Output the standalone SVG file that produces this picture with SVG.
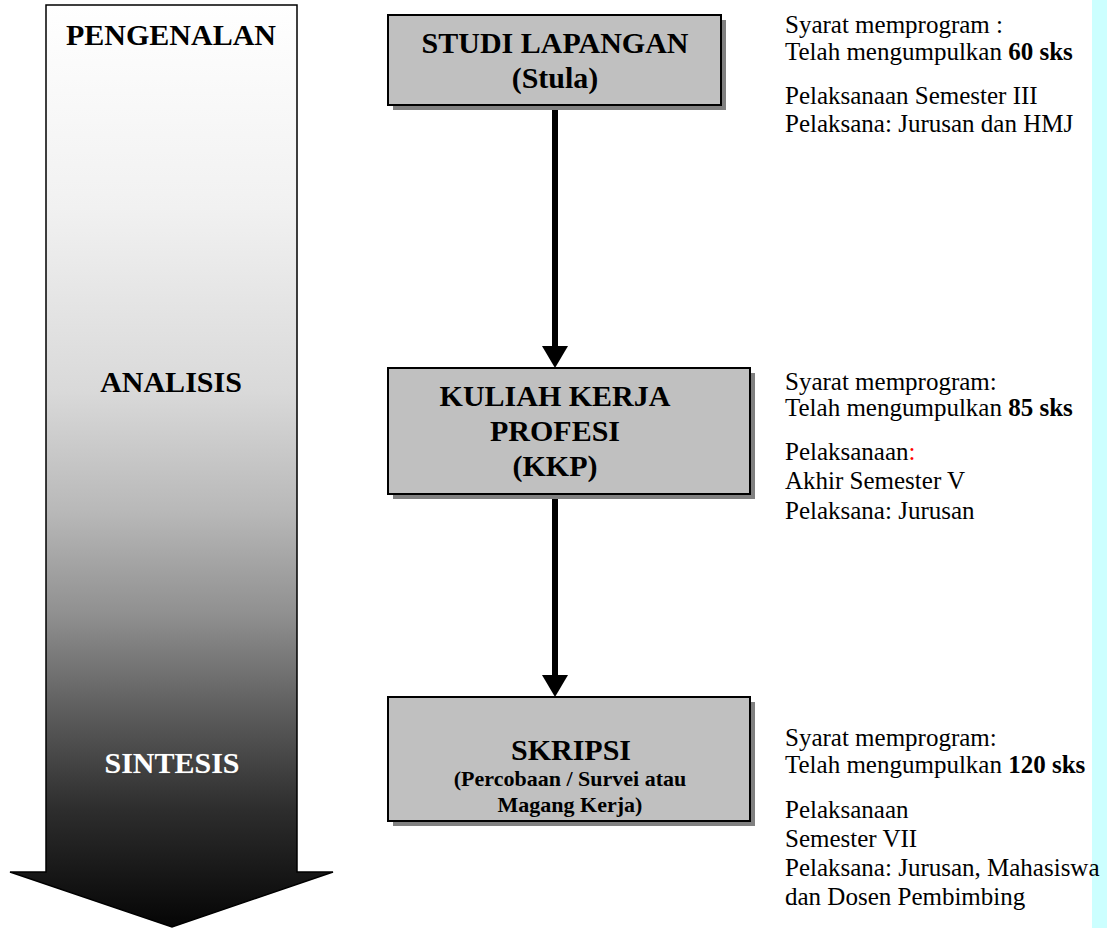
<svg xmlns="http://www.w3.org/2000/svg" width="1107" height="928" viewBox="0 0 1107 928">
  <style>
    .serif { font-family: "Liberation Serif", "Times New Roman", serif; }
    .stage { font-size: 30px; font-weight: bold; text-anchor: middle; }
    .title { font-size: 30px; font-weight: bold; text-anchor: middle; fill: #000; }
    .sub { font-size: 22px; font-weight: bold; text-anchor: middle; fill: #000; }
    .note { font-size: 25px; fill: #000; }
    .box { fill: #c0c0c0; stroke: #000; stroke-width: 2; }
    .shadow { fill: #808080; }
    .link { stroke: #000; stroke-width: 6; fill: none; }
  </style>
  <defs>
    <linearGradient id="stageFill" gradientUnits="userSpaceOnUse" x1="0" y1="5" x2="0" y2="927">
      <stop offset="0" stop-color="#ffffff"/>
      <stop offset="0.22" stop-color="#f1f1f1"/>
      <stop offset="0.42" stop-color="#d9d9d9"/>
      <stop offset="0.55" stop-color="#b8b8b8"/>
      <stop offset="0.66" stop-color="#909090"/>
      <stop offset="0.76" stop-color="#606060"/>
      <stop offset="0.87" stop-color="#2e2e2e"/>
      <stop offset="1" stop-color="#050505"/>
    </linearGradient>
    <marker id="head" viewBox="0 0 22 26" refX="4" refY="13" markerWidth="22" markerHeight="26" markerUnits="userSpaceOnUse" orient="auto">
      <path d="M0,0 L22,13 L0,26 Z" fill="#000"/>
    </marker>
  </defs>

  <rect width="1107" height="928" fill="#ffffff"/>
  <!-- right-hand margin strip -->
  <rect x="1092" y="0" width="15" height="928" fill="#ccffff"/>

  <!-- stage arrow down the left side -->
  <g id="stages">
    <path d="M46,5 H297 V872 H333 L172,927 L10,872 H46 Z" fill="url(#stageFill)" stroke="#000" stroke-width="1.5"/>
    <text class="serif stage" x="171" y="45" fill="#000">PENGENALAN</text>
    <text class="serif stage" x="171" y="392" fill="#000">ANALISIS</text>
    <text class="serif stage" x="172" y="773" fill="#3a3a3a" transform="translate(1.5,1.5)">SINTESIS</text>
    <text class="serif stage" x="172" y="773" fill="#ffffff" stroke="#555" stroke-width="0.8" paint-order="stroke">SINTESIS</text>
  </g>

  <!-- connectors -->
  <g id="connectors">
    <path class="link" d="M555,107 V350" marker-end="url(#head)"/>
    <path class="link" d="M555,496 V679" marker-end="url(#head)"/>
  </g>

  <g id="stula">
    <rect class="shadow" x="393" y="20" width="333" height="90"/>
    <rect class="box" x="388" y="15" width="333" height="90"/>
    <text class="serif title" x="555" y="53">STUDI LAPANGAN</text>
    <text class="serif title" x="555" y="88">(Stula)</text>
  </g>

  <g id="kkp">
    <rect class="shadow" x="393" y="373" width="362" height="126"/>
    <rect class="box" x="388" y="368" width="362" height="126"/>
    <text class="serif title" x="555" y="406">KULIAH KERJA</text>
    <text class="serif title" x="555" y="441">PROFESI</text>
    <text class="serif title" x="555" y="476">(KKP)</text>
  </g>

  <g id="skripsi">
    <rect class="shadow" x="393" y="702" width="362" height="124"/>
    <rect class="box" x="388" y="697" width="362" height="124"/>
    <text class="serif title" x="571" y="760" font-size="24">SKRIPSI</text>
    <text class="serif sub" x="570" y="786">(Percobaan / Survei atau</text>
    <text class="serif sub" x="570" y="812">Magang Kerja)</text>
  </g>

  <g id="note-stula">
    <text class="serif note" x="785" y="33">Syarat memprogram :</text>
    <text class="serif note" x="785" y="60">Telah mengumpulkan <tspan font-weight="bold">60 sks</tspan></text>
    <text class="serif note" x="785" y="104">Pelaksanaan Semester III</text>
    <text class="serif note" x="785" y="132">Pelaksana: Jurusan dan HMJ</text>
  </g>

  <g id="note-kkp">
    <text class="serif note" x="785" y="390">Syarat memprogram:</text>
    <text class="serif note" x="785" y="416">Telah mengumpulkan <tspan font-weight="bold">85 sks</tspan></text>
    <text class="serif note" x="785" y="460">Pelaksanaan<tspan fill="#ff0000">:</tspan></text>
    <text class="serif note" x="785" y="489">Akhir Semester V</text>
    <text class="serif note" x="785" y="519">Pelaksana: Jurusan</text>
  </g>

  <g id="note-skripsi">
    <text class="serif note" x="785" y="746">Syarat memprogram:</text>
    <text class="serif note" x="785" y="773">Telah mengumpulkan <tspan font-weight="bold">120 sks</tspan></text>
    <text class="serif note" x="785" y="818">Pelaksanaan</text>
    <text class="serif note" x="785" y="847">Semester VII</text>
    <text class="serif note" x="785" y="876">Pelaksana: Jurusan, Mahasiswa</text>
    <text class="serif note" x="785" y="905">dan Dosen Pembimbing</text>
  </g>
</svg>
